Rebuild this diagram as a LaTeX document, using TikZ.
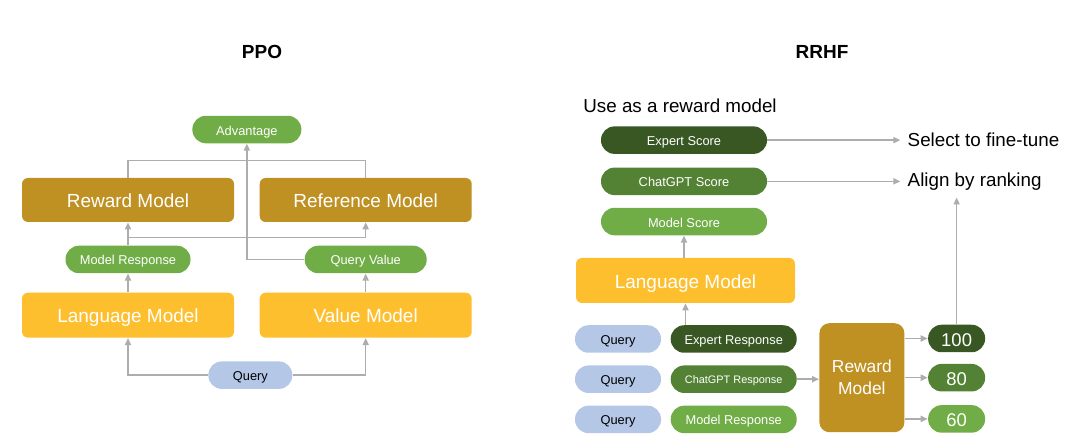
\documentclass[tikz,border=0pt]{standalone}
\usepackage{fontspec}
\setmainfont{Liberation Sans}
\usetikzlibrary{positioning, arrows.meta, calc}

\definecolor{goldbox}{HTML}{BF9022}
\definecolor{yellowbox}{HTML}{FDBF2E}
\definecolor{lightgreen}{HTML}{70AD47}
\definecolor{midgreen}{HTML}{548235}
\definecolor{darkgreen}{HTML}{385723}
\definecolor{queryblue}{HTML}{B4C7E7}
\definecolor{linegray}{HTML}{ADADAD}

\begin{document}
\begin{tikzpicture}[
        bigbox/.style={rectangle, rounded corners=0.12cm, minimum width=4.24cm, minimum height=0.88cm, align=center, text=white, text height=9.6pt, text depth=1pt, font=\fontsize{10.8pt}{13pt}\selectfont},
        pill/.style={rectangle, rounded corners=0.27cm, minimum height=0.55cm, inner sep=0pt, align=center, text=white, text height=6.8pt, text depth=0.5pt, font=\fontsize{7.3pt}{9pt}\selectfont},
        querypill/.style={pill, fill=queryblue, text=black},
        score/.style={pill, minimum width=1.14cm, text height=9.6pt, text depth=0.7pt, font=\fontsize{10.5pt}{12pt}\selectfont},
        sidetext/.style={inner sep=0.14cm, font=\fontsize{10.7pt}{13pt}\selectfont},
        title/.style={font=\fontsize{10.8pt}{13pt}\selectfont\bfseries},
        arrow/.style={-{Triangle[length=4pt, width=3.5pt]}, draw=linegray, line width=0.85pt},
        link/.style={draw=linegray, line width=0.85pt}
    ]
    \useasboundingbox (0,0) rectangle (21.6,-8.96);

    % PPO
    \node[title] (PPO) at (5.24,-1.03) {PPO};

    \node[bigbox, fill=goldbox] (RM) at (2.56,-4.00) {Reward Model};
    \node[bigbox, fill=goldbox, right=0.5cm of RM] (RefM) {Reference Model};
    \node[bigbox, fill=yellowbox, minimum height=0.9cm, below=1.4cm of RM] (LM) {Language Model};
    \node[bigbox, fill=yellowbox, minimum height=0.9cm, right=0.5cm of LM] (VM) {Value Model};

    \node[pill, fill=lightgreen, minimum width=2.5cm, below=0.46cm of RM] (MResp) {Model Response};
    \node[pill, fill=lightgreen, minimum width=2.44cm, below=0.46cm of RefM] (QVal) {Query Value};
    \node[pill, fill=lightgreen, minimum width=2.18cm, above=0.68cm of $(RM.north)!0.5!(RefM.north)$] (Adv) {Advantage};
    \node[querypill, minimum width=1.68cm, below=0.46cm of $(LM.south)!0.5!(VM.south)$, xshift=0.07cm] (Query) {Query};

    \coordinate (MRSplit) at ($(MResp.north)+(0,0.16)$);
    \coordinate (RMTop) at ($(RM.north)+(0,0.34)$);

    \draw[arrow] (Query.west) -| (LM.south);
    \draw[arrow] (Query.east) -| (VM.south);
    \draw[arrow] (LM.north) -- (MResp.south);
    \draw[arrow] (VM.north) -- (QVal.south);
    \draw[link] (MResp.north) -- (MRSplit);
    \draw[arrow] (MRSplit) -- (RM.south);
    \draw[arrow] (MRSplit) -| (RefM.south);
    \draw[link] (RM.north) -- (RMTop) -| (RefM.north);
    \draw[arrow] (QVal.west) -| (Adv.south);

    % RRHF
    \node[title] (RRHF) at (16.44,-1.03) {RRHF};

    \node[bigbox, fill=yellowbox, minimum width=4.38cm, minimum height=0.9cm] (LM2) at (13.71,-5.61) {Language Model};
    \node[pill, fill=lightgreen, minimum width=3.32cm, above=0.44cm of LM2, xshift=-0.03cm] (MScore) {Model Score};
    \node[pill, fill=midgreen, minimum width=3.32cm, above=0.24cm of MScore] (CScore) {ChatGPT Score};
    \node[pill, fill=darkgreen, minimum width=3.32cm, above=0.26cm of CScore] (EScore) {Expert Score};
    \node[sidetext, inner sep=0pt, anchor=base west] (UseRM) at (11.66,-2.26) {Use as a reward model};

    \node[sidetext, right=2.66cm of EScore] (Select) {Select to fine-tune};
    \node[sidetext, right=2.66cm of CScore] (Align) {Align by ranking};

    \node[querypill, minimum width=1.72cm] (Q1) at (12.36,-6.78) {Query};
    \node[querypill, minimum width=1.72cm, below=0.24cm of Q1] (Q2) {Query};
    \node[querypill, minimum width=1.72cm, below=0.24cm of Q2] (Q3) {Query};

    \node[pill, fill=darkgreen, minimum width=2.52cm, right=0.18cm of Q1] (EResp) {Expert Response};
    \node[pill, fill=midgreen, minimum width=2.52cm, right=0.18cm of Q2, text height=5.8pt, text depth=0.4pt, font=\fontsize{6.2pt}{8pt}\selectfont] (CResp) {ChatGPT Response};
    \node[pill, fill=lightgreen, minimum width=2.52cm, right=0.18cm of Q3] (MResp2) {Model Response};

    \node[rectangle, fill=goldbox, text=white, align=center, rounded corners=0.2cm, minimum width=1.7cm, minimum height=2.18cm, right=0.44cm of CResp, yshift=0.03cm, font=\fontsize{9.9pt}{12.5pt}\selectfont] (RMod) {Reward\\Model};

    \node[score, fill=midgreen, right=0.46cm of RMod] (S80) {80};
    \node[score, fill=darkgreen, above=0.22cm of S80] (S100) {100};
    \node[score, fill=lightgreen, below=0.26cm of S80] (S60) {60};

    \draw[arrow] (EResp.north -| LM2.south) -- (LM2.south);
    \draw[arrow] (LM2.north -| MScore.south) -- (MScore.south);
    \draw[arrow] (EScore.east) -- (Select.west);
    \draw[arrow] (CScore.east) -- (Align.west);
    \draw[arrow] (CResp.east) -- (CResp.east -| RMod.west);
    \draw[arrow] (RMod.east |- S100.west) -- (S100.west);
    \draw[arrow] (RMod.east |- S80.west) -- (S80.west);
    \draw[arrow] (RMod.east |- S60.west) -- (S60.west);
    \draw[arrow] (S100.north) -- (S100.north |- Align.south);

\end{tikzpicture}
\end{document}
